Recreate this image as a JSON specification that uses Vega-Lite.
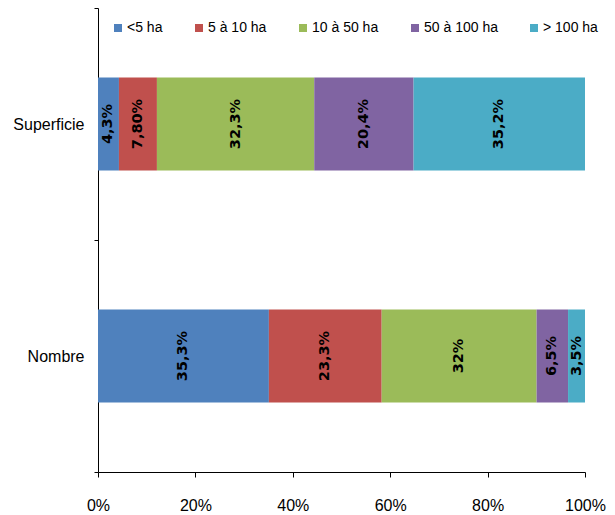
{
  "$schema": "https://vega.github.io/schema/vega-lite/v6.json",
  "width": 487,
  "height": 464,
  "autosize": {"type": "none"},
  "padding": {"left": 98, "top": 8, "right": 30, "bottom": 43},
  "background": "white",
  "config": {
    "view": {"stroke": null},
    "font": "Liberation Sans, sans-serif"
  },
  "data": {
    "values": [
      {"type": "Superficie", "classe": "<5 ha", "ordre": 1, "valeur": 4.3, "etiquette": "4,3%"},
      {"type": "Superficie", "classe": "5 à 10 ha", "ordre": 2, "valeur": 7.8, "etiquette": "7,80%"},
      {"type": "Superficie", "classe": "10 à 50 ha", "ordre": 3, "valeur": 32.3, "etiquette": "32,3%"},
      {"type": "Superficie", "classe": "50 à 100 ha", "ordre": 4, "valeur": 20.4, "etiquette": "20,4%"},
      {"type": "Superficie", "classe": "> 100 ha", "ordre": 5, "valeur": 35.2, "etiquette": "35,2%"},
      {"type": "Nombre", "classe": "<5 ha", "ordre": 1, "valeur": 35.3, "etiquette": "35,3%"},
      {"type": "Nombre", "classe": "5 à 10 ha", "ordre": 2, "valeur": 23.3, "etiquette": "23,3%"},
      {"type": "Nombre", "classe": "10 à 50 ha", "ordre": 3, "valeur": 32, "etiquette": "32%"},
      {"type": "Nombre", "classe": "50 à 100 ha", "ordre": 4, "valeur": 6.5, "etiquette": "6,5%"},
      {"type": "Nombre", "classe": "> 100 ha", "ordre": 5, "valeur": 3.5, "etiquette": "3,5%"}
    ]
  },
  "encoding": {
    "y": {
      "field": "type",
      "type": "nominal",
      "sort": ["Superficie", "Nombre"],
      "scale": {"paddingInner": 0, "paddingOuter": 0},
      "axis": {
        "title": null,
        "domainColor": "#000000",
        "domainWidth": 1,
        "tickColor": "#000000",
        "tickSize": 4,
        "tickBand": "extent",
        "labelFontSize": 16,
        "labelColor": "#000000",
        "labelPadding": 10
      }
    },
    "order": {"field": "ordre", "type": "quantitative"}
  },
  "layer": [
    {
      "mark": {"type": "bar", "height": {"band": 0.4}},
      "encoding": {
        "x": {
          "field": "valeur",
          "type": "quantitative",
          "stack": "normalize",
          "scale": {"domain": [0, 1], "nice": false},
          "axis": {
            "title": null,
            "format": ".0%",
            "values": [0, 0.2, 0.4, 0.6, 0.8, 1],
            "grid": false,
            "labelFlush": false,
            "domainColor": "#000000",
            "tickColor": "#000000",
            "tickSize": 5,
            "labelFontSize": 16,
            "labelColor": "#000000",
            "labelPadding": 20
          }
        },
        "color": {
          "field": "classe",
          "type": "nominal",
          "sort": ["<5 ha", "5 à 10 ha", "10 à 50 ha", "50 à 100 ha", "> 100 ha"],
          "scale": {
            "domain": ["<5 ha", "5 à 10 ha", "10 à 50 ha", "50 à 100 ha", "> 100 ha"],
            "range": ["#4F81BD", "#C0504D", "#9BBB59", "#8064A2", "#4BACC6"]
          },
          "legend": {
            "title": null,
            "orient": "none",
            "direction": "horizontal",
            "legendX": 13,
            "legendY": 13,
            "symbolType": "square",
            "symbolSize": 64,
            "symbolStrokeWidth": 0,
            "labelFontSize": 14,
            "labelColor": "#000000",
            "labelOffset": 2,
            "columnPadding": 29
          }
        }
      }
    },
    {
      "mark": {
        "type": "text",
        "angle": 270,
        "font": "DejaVu Sans",
        "fontWeight": "bold",
        "fontSize": 14.5,
        "color": "#000000",
        "align": "center",
        "baseline": "middle"
      },
      "encoding": {
        "x": {
          "field": "valeur",
          "type": "quantitative",
          "stack": "normalize",
          "bandPosition": 0.5
        },
        "text": {"field": "etiquette"}
      }
    }
  ]
}
